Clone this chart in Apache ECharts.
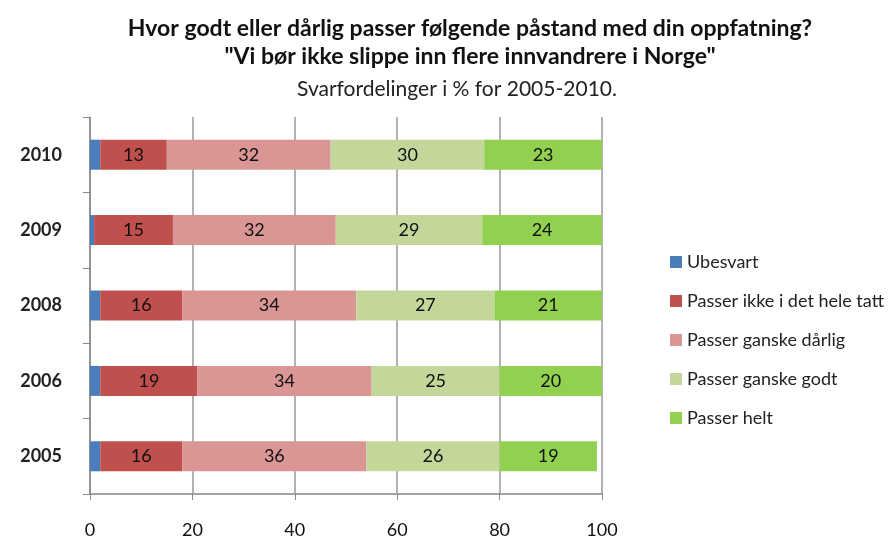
<!DOCTYPE html>
<html lang="no">
<head>
    <meta charset="UTF-8">
    <title>Svarfordelinger</title>
    <script src="https://cdn.jsdelivr.net/npm/echarts@6/dist/echarts.min.js"></script>
    <style>
        html, body { margin: 0; padding: 0; background: #fff; }
        #chart { width: 893px; height: 544px; }
    </style>
</head>
<body>
    <div id="chart"></div>
    <script>
        // years, bottom to top
        var years = ['2005', '2006', '2008', '2009', '2010'];
        var seriesNames = ['Ubesvart', 'Passer ikke i det hele tatt', 'Passer ganske dårlig', 'Passer ganske godt', 'Passer helt'];
        var ubesvart = [2, 2, 2, 0.8, 2];
        var ikkeIDetHele = [16, 19, 16, 15.4, 13];
        var ganskeDarlig = [36, 34, 34, 31.8, 32];
        var ganskeGodt = [26, 25, 27, 28.6, 30];
        var helt = [19, 20, 21, 23.5, 23];
        var xTicks = [0, 20, 40, 60, 80, 100];

        var colors = ['#4a7ebb', '#c0504d', '#d99694', '#c4d79b', '#92d050'];
        var font = 'Lato, "Open Sans", sans-serif';

        var values = [ubesvart, ikkeIDetHele, ganskeDarlig, ganskeGodt, helt];
        var series = [];
        for (var i = 0; i < seriesNames.length; i++) {
            series.push({
                name: seriesNames[i],
                type: 'bar',
                stack: 'total',
                barWidth: 30,
                data: values[i],
                itemStyle: { color: colors[i] },
                label: {
                    show: i > 0, // no number on Ubesvart
                    position: 'inside',
                    color: '#111',
                    fontSize: 18,
                    fontFamily: font,
                    formatter: function (p) { return Math.round(p.value); }
                }
            });
        }

        var myChart = echarts.init(document.getElementById('chart'));
        var option = {
            animation: false,
            color: colors,
            title: [{
                text: 'Hvor godt eller dårlig passer følgende påstand med din oppfatning?\n"Vi bør ikke slippe inn flere innvandrere i Norge"',
                left: 465,
                top: 10,
                textAlign: 'center',
                textStyle: {
                    fontFamily: font,
                    fontSize: 23,
                    fontWeight: 'bold',
                    color: '#111',
                    lineHeight: 28
                }
            }, {
                text: 'Svarfordelinger i % for 2005-2010.',
                left: 452,
                top: 71,
                textAlign: 'center',
                textStyle: {
                    fontFamily: font,
                    fontSize: 21,
                    fontWeight: 'normal',
                    color: '#222',
                    lineHeight: 26
                }
            }],
            legend: {
                orient: 'vertical',
                left: 665,
                top: 248,
                itemWidth: 12,
                itemHeight: 12,
                itemGap: 21,
                icon: 'rect',
                textStyle: { fontFamily: font, fontSize: 18, color: '#222' },
                data: seriesNames
            },
            grid: { left: 90, right: 291, top: 117, bottom: 50, containLabel: false },
            xAxis: {
                type: 'value',
                min: xTicks[0],
                max: xTicks[xTicks.length - 1],
                interval: 20,
                axisLine: { show: true, lineStyle: { color: '#888', width: 1.5 } },
                axisTick: { show: true, length: 6, lineStyle: { color: '#888' } },
                axisLabel: { fontFamily: font, fontSize: 18, color: '#111', margin: 27 },
                splitLine: { show: true, lineStyle: { color: '#999', width: 1.5 } }
            },
            yAxis: {
                type: 'category',
                data: years,
                axisLine: { show: true, lineStyle: { color: '#888', width: 1.5 } },
                axisTick: { show: true, length: 7, lineStyle: { color: '#888' } },
                axisLabel: { fontFamily: font, fontSize: 18, fontWeight: 'bold', color: '#222', margin: 28 }
            },
            series: series
        };
        myChart.setOption(option);
    </script>
</body>
</html>
